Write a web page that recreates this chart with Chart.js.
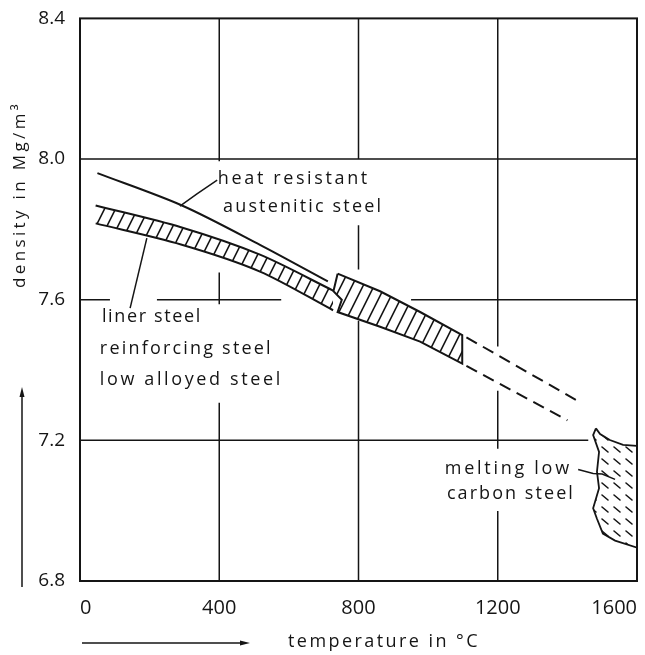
<!DOCTYPE html>
<html>
<head>
<meta charset="utf-8">
<script src="https://cdn.jsdelivr.net/npm/chart.js@4.4.1/dist/chart.umd.min.js"></script>
<style>
  html, body { margin: 0; padding: 0; background: #fff; }
  canvas { display: block; }
</style>
</head>
<body>
<canvas id="chart" width="645" height="655"></canvas>
<script>
// axes
const tempTicks = [0, 400, 800, 1200, 1600];
const densityTicks = [6.8, 7.2, 7.6, 8.0, 8.4];

// heat resistant austenitic steel
const austeniticT = [50, 293, 517, 712];
const austeniticRho = [7.960, 7.868, 7.756, 7.652];

// liner / reinforcing / low alloyed steel, below the transformation step
const linerT = [45, 290, 517, 727];
const linerUpper = [7.868, 7.806, 7.728, 7.626];
const linerLower = [7.817, 7.757, 7.680, 7.570];

// same band above the step
const linerHotT = [740, 862, 977, 1098];
const linerHotUpper = [7.674, 7.624, 7.565, 7.499];
const linerHotLower = [7.565, 7.523, 7.481, 7.418];
const stepT = [752, 728];
const stepRho = [7.600, 7.624];

// extrapolated band edges
const dashUpperT = [1110, 1430];
const dashUpperRho = [7.493, 7.312];
const dashLowerT = [1110, 1400];
const dashLowerRho = [7.412, 7.257];

// melting range of low carbon steel
const meltT = [1482, 1494, 1522, 1560, 1600, 1600, 1537, 1502, 1485, 1474, 1491, 1485, 1491, 1474, 1482];
const meltRho = [7.234, 7.218, 7.201, 7.187, 7.184, 6.895, 6.915, 6.935, 6.977, 7.007, 7.064, 7.111, 7.167, 7.215, 7.234];

const ink = '#151515';
const FONT = '"Open Sans", "DejaVu Sans", sans-serif';

const canvas = document.getElementById('chart');
const ctx = canvas.getContext('2d');

function makeHatch(w, h, draw) {
  const tile = document.createElement('canvas');
  tile.width = w;
  tile.height = h;
  const g = tile.getContext('2d');
  g.strokeStyle = ink;
  g.lineWidth = 1.6;
  g.lineCap = 'round';
  g.beginPath();
  draw(g, w, h);
  g.stroke();
  return ctx.createPattern(tile, 'repeat');
}

const bandHatch = makeHatch(11, 22, (g, w, h) => {
  for (let k = -1; k <= 1; k++) {
    g.moveTo(k * w, h);
    g.lineTo(k * w + w, 0);
  }
});
const meltHatch = makeHatch(12, 12, g => {
  g.moveTo(2, 3);
  g.lineTo(8, 8);
});

const pts = (xs, ys) => xs.map((x, i) => ({ x, y: ys[i] }));

const hotBand = [
  ...pts(linerHotT, linerHotUpper),
  ...pts(linerHotT, linerHotLower).reverse(),
  ...pts(stepT, stepRho),
  { x: linerHotT[0], y: linerHotUpper[0] }
];

const solid = { borderColor: ink, borderWidth: 2, pointRadius: 0, fill: false };

// hand drawn grid: lines stop short of curves and labels
const vRuns = [
  [400, [[8.4, 7.994], [7.677, 7.587], [7.307, 6.8]]],
  [800, [[8.4, 8.0], [7.812, 7.686], [7.54, 6.8]]],
  [1200, [[8.4, 7.467], [7.341, 7.176], [6.999, 6.8]]]
];
const hRuns = [
  [8.0, [[0, 1600]]],
  [7.6, [[0, 86], [221, 578], [951, 1600]]],
  [7.2, [[0, 1460]]]
];

const notes = [
  { text: 'heat resistant', t: 396, rho: 7.943, w: 152 },
  { text: 'austenitic steel', t: 411, rho: 7.865, w: 160 },
  { text: 'liner steel', t: 63, rho: 7.551, w: 100 },
  { text: 'reinforcing steel', t: 57, rho: 7.461, w: 173 },
  { text: 'low alloyed steel', t: 57, rho: 7.372, w: 183 },
  { text: 'melting low', t: 1048, rho: 7.120, w: 127 },
  { text: 'carbon steel', t: 1054, rho: 7.047, w: 128 }
];
const leaders = [
  [[394, 7.94], [336, 7.901], [287, 7.866]],
  [[144, 7.576], [192, 7.775]],
  [[1431, 7.117], [1474, 7.106], [1500, 7.104], [1537, 7.089]]
];

function spacedText(c, text, x, y, width) {
  c.letterSpacing = '0px';
  const w0 = c.measureText(text).width;
  c.letterSpacing = Math.max(0, (width - w0) / text.length) + 'px';
  c.fillText(text, x, y);
  c.letterSpacing = '0px';
}

function arrow(c, x1, y1, x2, y2) {
  const a = Math.atan2(y2 - y1, x2 - x1);
  c.beginPath();
  c.moveTo(x1, y1);
  c.lineTo(x2 - 8 * Math.cos(a), y2 - 8 * Math.sin(a));
  c.stroke();
  c.beginPath();
  c.moveTo(x2, y2);
  c.lineTo(x2 - 10 * Math.cos(a) + 2.5 * Math.sin(a), y2 - 10 * Math.sin(a) - 2.5 * Math.cos(a));
  c.lineTo(x2 - 10 * Math.cos(a) - 2.5 * Math.sin(a), y2 - 10 * Math.sin(a) + 2.5 * Math.cos(a));
  c.closePath();
  c.fill();
}

const paper = {
  id: 'paper',
  beforeDatasetsDraw(chart) {
    const { ctx: c, scales: { x, y } } = chart;
    c.save();
    c.strokeStyle = ink;
    c.lineWidth = 1.5;
    c.beginPath();
    vRuns.forEach(([t, runs]) => runs.forEach(([a, b]) => {
      const px = x.getPixelForValue(t);
      c.moveTo(px, y.getPixelForValue(a));
      c.lineTo(px, y.getPixelForValue(b));
    }));
    hRuns.forEach(([rho, runs]) => runs.forEach(([a, b]) => {
      const py = y.getPixelForValue(rho);
      c.moveTo(x.getPixelForValue(a), py);
      c.lineTo(x.getPixelForValue(b), py);
    }));
    c.stroke();
    c.restore();
  },
  afterDatasetsDraw(chart) {
    const { ctx: c, chartArea: a } = chart;
    c.save();
    c.strokeStyle = ink;
    c.lineWidth = 2;
    c.strokeRect(a.left, a.top, a.right - a.left, a.bottom - a.top);
    c.restore();
  },
  afterDraw(chart) {
    const { ctx: c, scales: { x, y }, chartArea: a } = chart;
    c.save();
    c.strokeStyle = ink;
    c.fillStyle = ink;
    c.lineWidth = 1.5;
    leaders.forEach(line => {
      c.beginPath();
      line.forEach(([t, rho], i) => {
        const px = x.getPixelForValue(t), py = y.getPixelForValue(rho);
        if (i) c.lineTo(px, py); else c.moveTo(px, py);
      });
      c.stroke();
    });

    c.font = '18px ' + FONT;
    c.textBaseline = 'middle';
    c.textAlign = 'left';
    notes.forEach(n => spacedText(c, n.text, x.getPixelForValue(n.t), y.getPixelForValue(n.rho), n.w));

    // axis titles with their arrows
    spacedText(c, 'temperature in °C', 288, 642, 192);
    arrow(c, a.left + 2, 643, 250, 643);

    c.save();
    c.translate(20, 194);
    c.rotate(-Math.PI / 2);
    c.font = '17px ' + FONT;
    spacedText(c, 'density in Mg/m³', -94, 0, 187);
    c.restore();
    arrow(c, 22, 587, 22, 387);
    c.restore();
  }
};

new Chart(ctx, {
  type: 'line',
  data: {
    datasets: [
      { ...solid, data: pts(austeniticT, austeniticRho), tension: 0.3 },
      { ...solid, data: pts(linerT, linerUpper), tension: 0.3 },
      { ...solid, data: pts(linerT, linerLower), tension: 0.3, fill: '-1', backgroundColor: bandHatch },
      { ...solid, data: hotBand, tension: 0, fill: 'shape', backgroundColor: bandHatch },
      { ...solid, data: pts(dashUpperT, dashUpperRho), borderDash: [12, 7] },
      { ...solid, data: pts(dashLowerT, dashLowerRho), borderDash: [12, 7] },
      { ...solid, data: pts(meltT, meltRho), tension: 0, borderWidth: 1.8, fill: 'shape', backgroundColor: meltHatch }
    ]
  },
  options: {
    responsive: false,
    animation: false,
    events: [],
    layout: { padding: { top: 10, right: 8, left: 0, bottom: 0 } },
    plugins: { legend: { display: false }, tooltip: { enabled: false } },
    scales: {
      x: {
        type: 'linear',
        min: 0,
        max: 1600,
        afterBuildTicks: s => { s.ticks = tempTicks.map(v => ({ value: v })); },
        afterFit: s => { s.height = 74; },
        grid: { display: false },
        border: { display: false },
        ticks: { color: ink, font: { family: FONT, size: 20 }, padding: 7, align: 'inner', maxRotation: 0, callback: v => String(v) }
      },
      y: {
        type: 'linear',
        min: 6.8,
        max: 8.4,
        afterBuildTicks: s => { s.ticks = densityTicks.map(v => ({ value: v })); },
        afterFit: s => { s.width = 80; },
        grid: { display: false },
        border: { display: false },
        ticks: { color: ink, font: { family: FONT, size: 19 }, padding: 7, callback: v => v.toFixed(1) }
      }
    }
  },
  plugins: [paper]
});
</script>
</body>
</html>
